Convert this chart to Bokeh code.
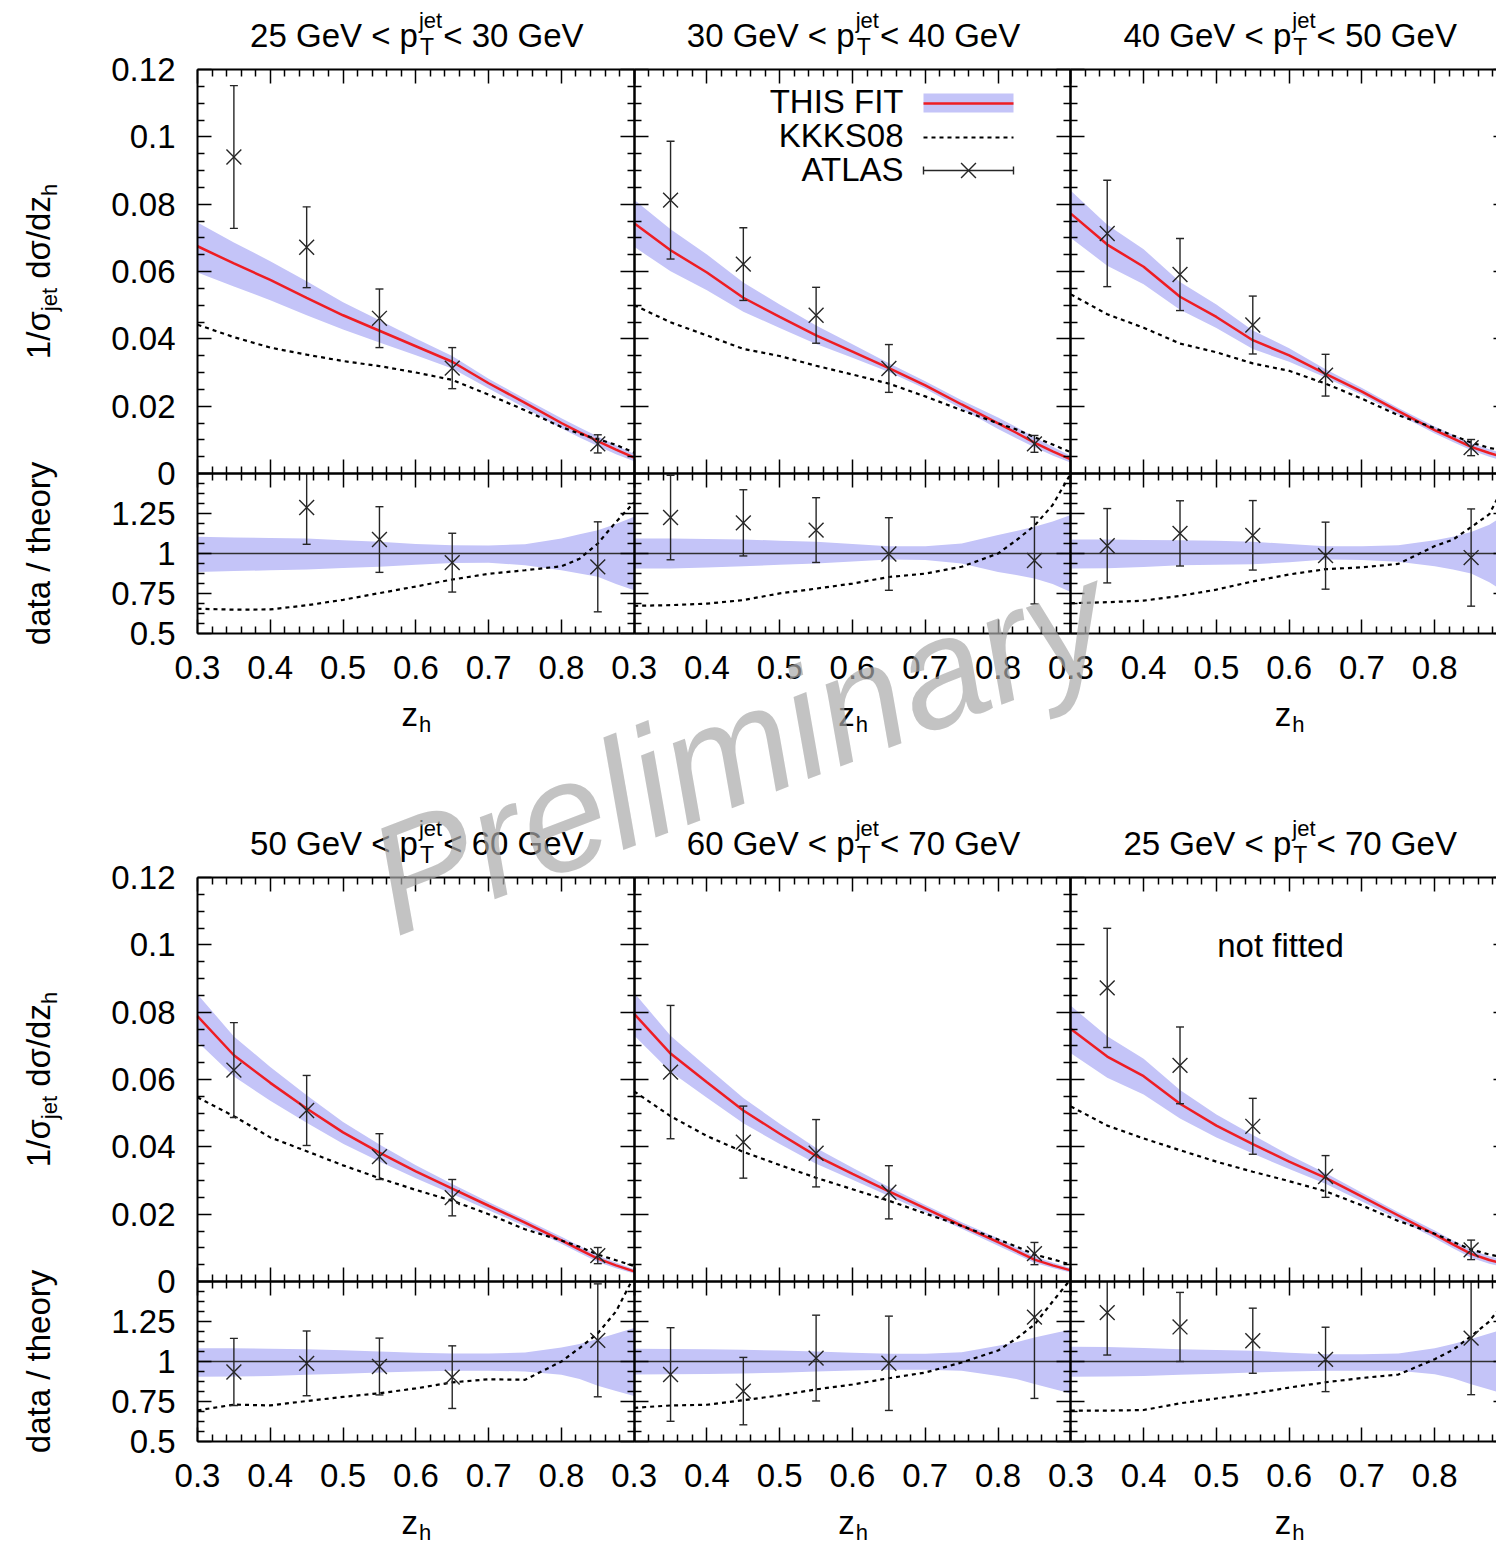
import numpy as np
from bokeh.plotting import figure
from bokeh.models import (Range1d, LinearAxis, FixedTicker, CustomJSTickFormatter,
                          Label, ColumnDataSource)
from bokeh.embed import file_html
from bokeh.resources import INLINE

# ---------------------------------------------------------------- data
# z_h grid of the theory curves and centres of the ATLAS bins
Z = [0.3, 0.35, 0.4, 0.45, 0.5, 0.55, 0.6, 0.65, 0.7, 0.75, 0.8, 0.825, 0.85, 0.875, 0.9]
Z_DATA = [0.35, 0.45, 0.55, 0.65, 0.85]

# jet pT bins in GeV
PT_LO = [25, 30, 40, 50, 60, 25]
PT_HI = [30, 40, 50, 60, 70, 70]

# 25 < pT < 30 GeV
FIT_25_30 = [0.0675, 0.0624, 0.0575, 0.0522, 0.0470, 0.0424, 0.0378, 0.0332, 0.0268, 0.0210, 0.0150, 0.0122, 0.0096, 0.0071, 0.0047]
KKKS_25_30 = [0.0442, 0.0405, 0.0374, 0.0353, 0.0334, 0.0319, 0.0300, 0.0278, 0.0234, 0.0188, 0.0138, 0.0118, 0.0102, 0.0085, 0.0062]
UP_25_30 = [0.104, 0.100, 0.097, 0.094, 0.083, 0.073, 0.060, 0.052, 0.050, 0.058, 0.094, 0.120, 0.146, 0.185, 0.230]
DN_25_30 = [0.115, 0.110, 0.105, 0.100, 0.090, 0.083, 0.070, 0.060, 0.058, 0.073, 0.104, 0.125, 0.146, 0.190, 0.230]
ATLAS_25_30 = [0.0940, 0.0672, 0.0461, 0.0313, 0.0088]
ERR_25_30 = [0.0212, 0.0120, 0.0087, 0.0061, 0.0027]

# 30 < pT < 40 GeV
FIT_30_40 = [0.0743, 0.0663, 0.0597, 0.0522, 0.0465, 0.0410, 0.0362, 0.0313, 0.0262, 0.0205, 0.0149, 0.0121, 0.0092, 0.0066, 0.0042]
KKKS_30_40 = [0.0500, 0.0449, 0.0410, 0.0370, 0.0349, 0.0320, 0.0294, 0.0267, 0.0229, 0.0188, 0.0149, 0.0131, 0.0108, 0.0086, 0.0063]
UP_30_40 = [0.094, 0.094, 0.090, 0.0875, 0.080, 0.073, 0.060, 0.046, 0.046, 0.0625, 0.115, 0.140, 0.167, 0.200, 0.240]
DN_30_40 = [0.094, 0.094, 0.088, 0.080, 0.070, 0.0625, 0.050, 0.0375, 0.040, 0.0625, 0.115, 0.135, 0.156, 0.190, 0.240]
ATLAS_30_40 = [0.0812, 0.0622, 0.0470, 0.0312, 0.0088]
ERR_30_40 = [0.0175, 0.0108, 0.0083, 0.0071, 0.0025]

# 40 < pT < 50 GeV
FIT_40_50 = [0.0772, 0.0680, 0.0614, 0.0525, 0.0465, 0.0396, 0.0351, 0.0296, 0.0243, 0.0185, 0.0129, 0.0104, 0.0079, 0.0061, 0.0045]
KKKS_40_50 = [0.0532, 0.0473, 0.0433, 0.0386, 0.0360, 0.0327, 0.0305, 0.0267, 0.0222, 0.0173, 0.0135, 0.0113, 0.0092, 0.0076, 0.0066]
UP_40_50 = [0.0875, 0.087, 0.085, 0.083, 0.080, 0.073, 0.060, 0.046, 0.046, 0.052, 0.083, 0.105, 0.135, 0.180, 0.250]
DN_40_50 = [0.094, 0.092, 0.085, 0.073, 0.070, 0.067, 0.055, 0.0375, 0.040, 0.052, 0.079, 0.100, 0.125, 0.180, 0.250]
ATLAS_40_50 = [0.0713, 0.0591, 0.0441, 0.0292, 0.0077]
ERR_40_50 = [0.0158, 0.0107, 0.0086, 0.0062, 0.0024]

# 50 < pT < 60 GeV
FIT_50_60 = [0.0788, 0.0672, 0.0590, 0.0514, 0.0443, 0.0383, 0.0327, 0.0276, 0.0225, 0.0175, 0.0122, 0.0095, 0.0068, 0.0048, 0.0030]
KKKS_50_60 = [0.0547, 0.0491, 0.0428, 0.0387, 0.0345, 0.0307, 0.0272, 0.0240, 0.0200, 0.0155, 0.0122, 0.0103, 0.0080, 0.0063, 0.0046]
UP_50_60 = [0.083, 0.083, 0.080, 0.077, 0.070, 0.0625, 0.055, 0.050, 0.050, 0.056, 0.0875, 0.110, 0.140, 0.175, 0.210]
DN_50_60 = [0.096, 0.094, 0.090, 0.083, 0.076, 0.069, 0.062, 0.058, 0.058, 0.062, 0.083, 0.110, 0.152, 0.185, 0.215]
ATLAS_50_60 = [0.0628, 0.0508, 0.0371, 0.0249, 0.0077]
ERR_50_60 = [0.0141, 0.0104, 0.0068, 0.0054, 0.0024]

# 60 < pT < 70 GeV
FIT_60_70 = [0.0795, 0.0677, 0.0592, 0.0508, 0.0439, 0.0373, 0.0320, 0.0268, 0.0217, 0.0166, 0.0117, 0.0091, 0.0065, 0.0048, 0.0033]
KKKS_60_70 = [0.0565, 0.0491, 0.0432, 0.0385, 0.0346, 0.0308, 0.0274, 0.0240, 0.0202, 0.0165, 0.0125, 0.0104, 0.0080, 0.0066, 0.0050]
UP_60_70 = [0.079, 0.078, 0.076, 0.073, 0.068, 0.0625, 0.055, 0.048, 0.048, 0.058, 0.098, 0.120, 0.150, 0.175, 0.200]
DN_60_70 = [0.081, 0.080, 0.078, 0.075, 0.070, 0.0625, 0.056, 0.052, 0.052, 0.058, 0.090, 0.110, 0.140, 0.170, 0.200]
ATLAS_60_70 = [0.0622, 0.0414, 0.0381, 0.0265, 0.0083]
ERR_60_70 = [0.0198, 0.0107, 0.0100, 0.0079, 0.0033]

# 25 < pT < 70 GeV (not fitted)
FIT_25_70 = [0.0750, 0.0668, 0.0610, 0.0528, 0.0463, 0.0408, 0.0356, 0.0308, 0.0252, 0.0196, 0.0140, 0.0110, 0.0082, 0.0064, 0.0050]
KKKS_25_70 = [0.0520, 0.0463, 0.0425, 0.0390, 0.0356, 0.0326, 0.0298, 0.0268, 0.0226, 0.0180, 0.0142, 0.0118, 0.0095, 0.0080, 0.0070]
UP_25_70 = [0.092, 0.090, 0.085, 0.077, 0.072, 0.067, 0.055, 0.046, 0.046, 0.050, 0.083, 0.110, 0.140, 0.175, 0.210]
DN_25_70 = [0.096, 0.094, 0.090, 0.083, 0.076, 0.069, 0.062, 0.058, 0.058, 0.058, 0.080, 0.105, 0.142, 0.175, 0.210]
ATLAS_25_70 = [0.0872, 0.0642, 0.0461, 0.0312, 0.0094]
ERR_25_70 = [0.0177, 0.0114, 0.0083, 0.0062, 0.0029]

FIT = [FIT_25_30, FIT_30_40, FIT_40_50, FIT_50_60, FIT_60_70, FIT_25_70]
KKKS = [KKKS_25_30, KKKS_30_40, KKKS_40_50, KKKS_50_60, KKKS_60_70, KKKS_25_70]
UP = [UP_25_30, UP_30_40, UP_40_50, UP_50_60, UP_60_70, UP_25_70]
DN = [DN_25_30, DN_30_40, DN_40_50, DN_50_60, DN_60_70, DN_25_70]
ATLAS = [ATLAS_25_30, ATLAS_30_40, ATLAS_40_50, ATLAS_50_60, ATLAS_60_70, ATLAS_25_70]
ERR = [ERR_25_30, ERR_30_40, ERR_40_50, ERR_50_60, ERR_60_70, ERR_25_70]

# axis ticks
X_MAJOR = [0.3, 0.4, 0.5, 0.6, 0.7, 0.8, 0.9]
X_LABELLED = [0.3, 0.4, 0.5, 0.6, 0.7, 0.8]
X_MINOR = [round(0.3 + 0.02 * i, 3) for i in range(31) if i % 5]
Y_MAJOR = [0.0, 0.02, 0.04, 0.06, 0.08, 0.1, 0.12]
Y_MINOR = [round(0.005 * i, 3) for i in range(25) if i % 4]
R_MAJOR = [0.5, 0.75, 1.0, 1.25]
R_MINOR = [0.5 + 0.0625 * i for i in range(17) if i % 4]

# ---------------------------------------------------------------- layout
# one plot frame covers the whole canvas; every panel gets its own ranges
W, H = 1496, 1545
PX0 = 197                                # left edge of the first panel column
PANEL_PX = 436.67                        # width of one z_h panel
PX_PER_Z = PANEL_PX / 0.6
ROW_TOP = [69, 877]                      # top of the upper panel of each row
MAIN_PX, RATIO_PX = 404, 160

FONT = "Liberation Sans"
TXT, SUB = 33, 22
MID = 0.355                              # baseline to mid-height of the text, in em
BAND = "#c4c4f8"
RED = "#ee1d23"
INK = "#262626"


def x_range_for(col):
    start = 0.3 - (PX0 + col * PANEL_PX) / PX_PER_Z
    return Range1d(start, start + W / PX_PER_Z)


def y_range_for(top_px, height_px, lo, hi):
    per_px = (hi - lo) / height_px
    return Range1d(lo - (H - (top_px + height_px)) * per_px, hi + top_px * per_px)


XNAME = ["default", "c1", "c2"]
MAIN_Y = ["default", "m1"]
RATIO_Y = ["r0", "r1"]
XR = {"default": x_range_for(0), "c1": x_range_for(1), "c2": x_range_for(2)}
YR = {"default": y_range_for(ROW_TOP[0], MAIN_PX, 0.0, 0.12),
      "r0": y_range_for(ROW_TOP[0] + MAIN_PX, RATIO_PX, 0.5, 1.5),
      "m1": y_range_for(ROW_TOP[1], MAIN_PX, 0.0, 0.12),
      "r1": y_range_for(ROW_TOP[1] + MAIN_PX, RATIO_PX, 0.5, 1.5)}


def at_x(xn, px):
    r = XR[xn]
    return r.start + px * (r.end - r.start) / W


def at_y(yn, py):
    r = YR[yn]
    return r.start + (H - py) * (r.end - r.start) / H


ADV = {" ": .278, ".": .278, "/": .278, "<": .584, "G": .778, "V": .667, "T": .611,
       "a": .556, "d": .556, "e": .556, "h": .556, "j": .222, "o": .556, "p": .556,
       "r": .333, "t": .278, "y": .5, "z": .5, "σ": .617}


def tw(s, size):
    return size * sum(ADV.get(ch, .556) for ch in s)


p = figure(width=W, height=H, x_range=XR["default"], y_range=YR["default"],
           x_axis_type=None, y_axis_type=None, title=None,
           toolbar_location=None, output_backend="svg",
           min_border_left=0, min_border_right=0, min_border_top=0, min_border_bottom=0,
           outline_line_color=None, background_fill_color="white",
           border_fill_color="white")
p.extra_x_ranges = {"c1": XR["c1"], "c2": XR["c2"]}
p.extra_y_ranges = {"r0": YR["r0"], "m1": YR["m1"], "r1": YR["r1"]}

NUM_FMT = CustomJSTickFormatter(code="return String(Math.round(tick * 1000) / 1000);")
NO_FMT = CustomJSTickFormatter(code="return '';")


def axis(side, xn, yn, fixed, bounds, ticks, minor, labelled):
    ax = LinearAxis(x_range_name=xn, y_range_name=yn, fixed_location=fixed, bounds=bounds,
                    ticker=FixedTicker(ticks=ticks, minor_ticks=minor),
                    formatter=NUM_FMT if labelled else NO_FMT,
                    axis_line_width=2, axis_line_color="black",
                    major_tick_in=14, major_tick_out=0, minor_tick_in=7, minor_tick_out=0,
                    major_tick_line_width=1.5, minor_tick_line_width=1.5,
                    major_tick_line_color="black", minor_tick_line_color="black",
                    major_label_text_font=FONT, major_label_text_font_size=f"{TXT}px",
                    major_label_text_color="black",
                    major_label_standoff=22)
    p.add_layout(ax, side)


def text(s, px, py, xn, yn, size=TXT, align="left", rotated=False):
    """Place a text whose baseline passes through the pixel position (px, py)."""
    if rotated:
        px, angle = px - MID * size, np.pi / 2
    else:
        py, angle = py - MID * size, 0.0
    p.add_layout(Label(x=at_x(xn, px), y=at_y(yn, py), x_range_name=xn, y_range_name=yn,
                       text=s, text_font=FONT, text_font_size=f"{size}px",
                       text_color="black", text_align=align, text_baseline="middle",
                       angle=angle))


def clip_top(xs, ys, top):
    out_x, out_y = [xs[0]], [ys[0]]
    for i in range(1, len(xs)):
        if ys[i] <= top:
            out_x.append(xs[i])
            out_y.append(ys[i])
        else:
            t = (top - ys[i - 1]) / (ys[i] - ys[i - 1])
            out_x.append(xs[i - 1] + t * (xs[i] - xs[i - 1]))
            out_y.append(top)
            break
    return out_x, out_y


def error_bars(xn, yn, z, y, e, lo_lim, hi_lim):
    z, y, e = np.asarray(z), np.asarray(y), np.asarray(e)
    keep = (y >= lo_lim) & (y <= hi_lim)
    z, y, e = z[keep], y[keep], e[keep]
    lo, hi = np.maximum(y - e, lo_lim), np.minimum(y + e, hi_lim)
    p.segment(x0=z, y0=lo, x1=z, y1=hi, line_color=INK, line_width=1.4,
              x_range_name=xn, y_range_name=yn)
    top_ok, bot_ok = (y + e) <= hi_lim, (y - e) >= lo_lim
    p.scatter(z[top_ok], (y + e)[top_ok], marker="dash", size=8, line_color=INK,
              line_width=1.4, x_range_name=xn, y_range_name=yn)
    p.scatter(z[bot_ok], (y - e)[bot_ok], marker="dash", size=8, line_color=INK,
              line_width=1.4, x_range_name=xn, y_range_name=yn)
    p.scatter(z, y, marker="x", size=21, line_color=INK, line_width=1.4,
              x_range_name=xn, y_range_name=yn)


# ---------------------------------------------------------------- panels
z_arr = np.asarray(Z)
for k in range(6):
    r, c = divmod(k, 3)
    xn, mn, rn = XNAME[c], MAIN_Y[r], RATIO_Y[r]
    fit, kk = np.asarray(FIT[k]), np.asarray(KKKS[k])
    up, dn = np.asarray(UP[k]), np.asarray(DN[k])
    dat, err = np.asarray(ATLAS[k]), np.asarray(ERR[k])

    # upper panel: distributions
    src = ColumnDataSource(dict(z=z_arr, fit=fit, kk=kk, lo=fit * (1 - dn), hi=fit * (1 + up)))
    p.varea(x="z", y1="lo", y2="hi", source=src, fill_color=BAND,
            x_range_name=xn, y_range_name=mn)
    p.line("z", "fit", source=src, line_color=RED, line_width=2.5,
           x_range_name=xn, y_range_name=mn)
    p.line("z", "kk", source=src, line_color="black", line_width=2.2, line_dash="4 4",
           x_range_name=xn, y_range_name=mn)
    error_bars(xn, mn, Z_DATA, dat, err, 0.0, 0.12)

    # lower panel: data / theory
    p.varea(x=z_arr, y1=1 - dn, y2=1 + up, fill_color=BAND, x_range_name=xn, y_range_name=rn)
    p.segment(x0=[0.3], y0=[1.0], x1=[0.9], y1=[1.0], line_color="#303030", line_width=1.6,
              x_range_name=xn, y_range_name=rn)
    kx, ky = clip_top(list(z_arr), list(kk / fit), 1.5)
    p.line(kx, ky, line_color="black", line_width=2.2, line_dash="4 4",
           x_range_name=xn, y_range_name=rn)
    fit_at = np.interp(Z_DATA, z_arr, fit)
    error_bars(xn, rn, Z_DATA, dat / fit_at, err / fit_at, 0.5, 1.5)

    # frames with inward ticks on every side
    labelled_y = c == 0
    axis("above", xn, mn, 0.12, (0.3, 0.9), X_MAJOR, X_MINOR, False)
    axis("below", xn, mn, 0.0, (0.3, 0.9), X_MAJOR, X_MINOR, False)
    axis("left", xn, mn, 0.3, (0.0, 0.12), Y_MAJOR, Y_MINOR, labelled_y)
    axis("right", xn, mn, 0.9, (0.0, 0.12), Y_MAJOR, Y_MINOR, False)
    axis("above", xn, rn, 1.5, (0.3, 0.9), X_MAJOR, X_MINOR, False)
    axis("below", xn, rn, 0.5, (0.3, 0.9), X_LABELLED, X_MINOR, True)
    axis("left", xn, rn, 0.3, (0.5, 1.5), R_MAJOR, R_MINOR, labelled_y)
    axis("right", xn, rn, 0.9, (0.5, 1.5), R_MAJOR, R_MINOR, False)

    # panel title: lo GeV < p_T^jet < hi GeV
    base = ROW_TOP[r] - 22
    left_txt = f"{PT_LO[k]} GeV < p"
    right_txt = f"< {PT_HI[k]} GeV"
    w_script = tw("jet", SUB)
    total = tw(left_txt, TXT) + w_script + tw(right_txt, TXT)
    x0 = PX0 + c * PANEL_PX + PANEL_PX / 2 - total / 2
    xs = x0 + tw(left_txt, TXT)
    text(left_txt, x0, base, xn, mn)
    text("jet", xs + 1, base - 19, xn, mn, SUB)
    text("T", xs + 2, base + 8, xn, mn, SUB + 1)
    text(right_txt, xs + w_script + 2, base, xn, mn)

    # x axis label z_h
    zc = PX0 + c * PANEL_PX + PANEL_PX / 2
    zw = tw("z", TXT) + tw("h", SUB)
    zb = ROW_TOP[r] + MAIN_PX + RATIO_PX + 93
    text("z", zc - zw / 2, zb, xn, rn)
    text("h", zc - zw / 2 + tw("z", TXT) + 1, zb + 6, xn, rn, SUB)

# y axis titles
for r in (0, 1):
    mn, rn = MAIN_Y[r], RATIO_Y[r]
    pieces = [("1/σ", TXT, 0), ("jet", SUB, 7), (" ", TXT, 0), ("dσ/dz", TXT, 0), ("h", SUB, 7)]
    total = sum(tw(s, sz) for s, sz, _ in pieces)
    y_pos = ROW_TOP[r] + MAIN_PX / 2 + total / 2
    for s, sz, shift in pieces:
        if s.strip():
            text(s, 50 + shift, y_pos, "default", mn, sz, rotated=True)
        y_pos -= tw(s, sz)
    text("data / theory", 50, ROW_TOP[r] + MAIN_PX + RATIO_PX / 2 + tw("data / theory", TXT) / 2,
         "default", rn, rotated=True)

# legend in the upper middle panel
lx0, lx1 = at_x("c1", 923), at_x("c1", 1013)
p.quad(left=[lx0], right=[lx1], bottom=[at_y("default", 112)], top=[at_y("default", 93)],
       fill_color=BAND, line_color=None, x_range_name="c1")
p.line([lx0, lx1], [at_y("default", 103)] * 2, line_color=RED, line_width=2.5, x_range_name="c1")
p.line([lx0, lx1], [at_y("default", 137)] * 2, line_color="black", line_width=2.2,
       line_dash="4 4", x_range_name="c1")
ly = at_y("default", 170)
p.line([lx0, lx1], [ly, ly], line_color=INK, line_width=1.4, x_range_name="c1")
p.scatter([lx0, lx1], [ly, ly], marker="dash", angle=np.pi / 2, size=8, line_color=INK,
          line_width=1.4, x_range_name="c1")
p.scatter([at_x("c1", 968)], [ly], marker="x", size=21, line_color=INK, line_width=1.4,
          x_range_name="c1")
text("THIS FIT", 903, 113, "c1", "default", align="right")
text("KKKS08", 903, 147, "c1", "default", align="right")
text("ATLAS", 903, 181, "c1", "default", align="right")

text("not fitted", 1280, 957, "c2", "m1", align="center")

# watermark
p.add_layout(Label(x=at_x("default", 738), y=at_y("default", 748), text="Preliminary",
                   text_font=FONT, text_font_size="155px", text_font_style="italic",
                   text_color=(170, 170, 170), text_alpha=0.7, text_align="center",
                   text_baseline="middle", angle=np.deg2rad(21), level="overlay"))

open("out.html", "w").write(file_html(p, INLINE))
